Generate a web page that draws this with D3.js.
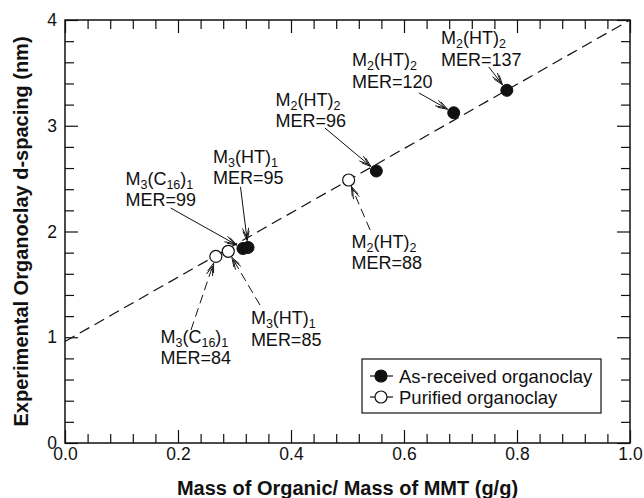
<!DOCTYPE html>
<html><head><meta charset="utf-8">
<script src="https://cdn.jsdelivr.net/npm/d3@7"></script>
<style>
body{margin:0;background:#fff}
text{font-family:"Liberation Sans",Arial,Helvetica,sans-serif;fill:#111}
</style>
</head><body>
<svg id="c" width="644" height="498"></svg>
<script>
// ---- data ----
const xTicks = [0, 0.2, 0.4, 0.6, 0.8, 1.0];
const xMinorTicks = [0.04,0.08,0.12,0.16,0.24,0.28,0.32,0.36,0.44,0.48,0.52,0.56,0.64,0.68,0.72,0.76,0.84,0.88,0.92,0.96];
const yTicks = [0, 1, 2, 3, 4];
const yMinorTicks = [0.2,0.4,0.6,0.8,1.2,1.4,1.6,1.8,2.2,2.4,2.6,2.8,3.2,3.4,3.6,3.8];
const asReceivedX = [0.315, 0.324, 0.551, 0.688, 0.782];
const asReceivedY = [1.839, 1.849, 2.572, 3.123, 3.335];
const purifiedX = [0.267, 0.289, 0.502];
const purifiedY = [1.764, 1.813, 2.487];
const fitX = [0, 1];
const fitY = [0.96, 4.0];
const seriesNames = ["As-received organoclay", "Purified organoclay"];
// annotations: series (0 filled, 1 open), point index, label name (| separates normal/subscript), MER
const annSeries = [0, 0, 0, 0, 0, 1, 1, 1];
const annIndex  = [4, 3, 2, 1, 0, 2, 1, 0];
const annName   = ["M|2|(HT)|2", "M|2|(HT)|2", "M|2|(HT)|2", "M|3|(HT)|1", "M|3|(C|16|)|1", "M|2|(HT)|2", "M|3|(HT)|1", "M|3|(C|16|)|1"];
const annMER    = ["MER=137", "MER=120", "MER=96", "MER=95", "MER=99", "MER=88", "MER=85", "MER=84"];
// label anchor (data coords) and arrow start (data coords)
const annTextX  = [0.6655, 0.508, 0.3726, 0.262, 0.107, 0.507, 0.329, 0.169];
const annTextY  = [3.773, 3.565, 3.187, 2.648, 2.440, 1.844, 1.125, 0.946];
const annFromX  = [0.750, 0.6265, 0.460, 0.3106, 0.187, 0.540, 0.345, 0.223];
const annFromY  = [3.556, 3.310, 2.979, 2.421, 2.222, 2.014, 1.305, 1.069];

// ---- layout ----
const W = 644, H = 498;
const m = {l: 65, r: 14, t: 20, b: 55};
const svg = d3.select("#c");
const x = d3.scaleLinear().domain([0, 1]).range([m.l, W - m.r]);
const y = d3.scaleLinear().domain([0, 4]).range([H - m.b, m.t]);
const ink = "#111";
const R = 6;

// axes with inward ticks on all sides
function drawAxis(gen, tr, vals, size, fmt, pad) {
  const g = svg.append("g").attr("transform", tr)
    .call(gen.tickValues(vals).tickSizeInner(-size).tickSizeOuter(0).tickPadding(pad).tickFormat(fmt));
  g.select(".domain").remove();
  g.selectAll("line").attr("stroke", ink).attr("stroke-width", 1.2);
  g.selectAll("text").attr("font-size", 17.5).attr("fill", ink)
    .attr("font-family", "'Liberation Sans',Arial,sans-serif");
  return g;
}
const none = () => "";
drawAxis(d3.axisBottom(x), `translate(0,${y(0)})`, xTicks, 13, d3.format(".1f"), 5);
drawAxis(d3.axisBottom(x), `translate(0,${y(0)})`, xMinorTicks, 9, none, 5);
drawAxis(d3.axisTop(x), `translate(0,${y(4)})`, xTicks, 13, none, 5);
drawAxis(d3.axisTop(x), `translate(0,${y(4)})`, xMinorTicks, 9, none, 5);
drawAxis(d3.axisLeft(y), `translate(${x(0)},0)`, yTicks, 13, d3.format("d"), 8);
drawAxis(d3.axisLeft(y), `translate(${x(0)},0)`, yMinorTicks, 9, none, 8);
drawAxis(d3.axisRight(y), `translate(${x(1)},0)`, yTicks, 13, none, 8);
drawAxis(d3.axisRight(y), `translate(${x(1)},0)`, yMinorTicks, 9, none, 8);

svg.append("rect").attr("x", x(0)).attr("y", y(4))
  .attr("width", x(1) - x(0)).attr("height", y(0) - y(4))
  .attr("fill", "none").attr("stroke", ink).attr("stroke-width", 1.5);

// fit line
svg.append("path")
  .datum(fitX.map((v, i) => [v, fitY[i]]))
  .attr("d", d3.line().x(d => x(d[0])).y(d => y(d[1])))
  .attr("fill", "none").attr("stroke", ink).attr("stroke-width", 1.2)
  .attr("stroke-dasharray", "11,6");

// points
const filled = asReceivedX.map((v, i) => [v, asReceivedY[i]]);
const open = purifiedX.map((v, i) => [v, purifiedY[i]]);
svg.append("g").selectAll("circle").data(open).join("circle")
  .attr("cx", d => x(d[0])).attr("cy", d => y(d[1])).attr("r", R)
  .attr("fill", "#fff").attr("stroke", ink).attr("stroke-width", 1.2);
svg.append("g").selectAll("circle").data(filled).join("circle")
  .attr("cx", d => x(d[0])).attr("cy", d => y(d[1])).attr("r", R)
  .attr("fill", ink).attr("stroke", ink).attr("stroke-width", 1);

// annotations
function nameText(sel, s) {
  s.split("|").forEach((part, i) => {
    const sub = i % 2 === 1;
    sel.append("tspan").text(part)
      .attr("font-size", sub ? 12.5 : 18)
      .attr("dy", sub ? 4 : (i === 0 ? 0 : -4));
  });
}
const ag = svg.append("g");
annSeries.forEach((s, k) => {
  const pts = s === 0 ? filled : open;
  const p = pts[annIndex[k]];
  const px = x(p[0]), py = y(p[1]);
  const fx = x(annFromX[k]), fy = y(annFromY[k]);
  const dx = px - fx, dy = py - fy, L = Math.hypot(dx, dy);
  const ux = dx / L, uy = dy / L;
  const ex = px - ux * (R + 1), ey = py - uy * (R + 1);
  ag.append("line").attr("x1", fx).attr("y1", fy).attr("x2", ex).attr("y2", ey)
    .attr("stroke", ink).attr("stroke-width", 1)
    .attr("stroke-dasharray", s === 1 ? "9,5" : null);
  // double chevron arrowhead
  const hl = 10, ang = 0.32;
  [0, 3].forEach(off => {
    const tx = ex - ux * off, ty = ey - uy * off;
    const a = Math.atan2(uy, ux);
    const p1 = [tx - hl * Math.cos(a - ang), ty - hl * Math.sin(a - ang)];
    const p2 = [tx - hl * Math.cos(a + ang), ty - hl * Math.sin(a + ang)];
    ag.append("path").attr("d", `M${p1[0]},${p1[1]}L${tx},${ty}L${p2[0]},${p2[1]}`)
      .attr("fill", "none").attr("stroke", ink).attr("stroke-width", 1);
  });
  const tx = x(annTextX[k]), ty = y(annTextY[k]);
  const t1 = ag.append("text").attr("x", tx).attr("y", ty).attr("font-size", 18);
  nameText(t1, annName[k]);
  ag.append("text").attr("x", tx).attr("y", ty + 21.5).attr("font-size", 18).text(annMER[k]);
});

// legend
const lg = svg.append("g");
lg.append("rect").attr("x", 362).attr("y", 359).attr("width", 239).attr("height", 54)
  .attr("fill", "#fff").attr("stroke", ink).attr("stroke-width", 1.2);
seriesNames.forEach((nm, i) => {
  const cy = 376 + i * 21;
  lg.append("line").attr("x1", 370).attr("x2", 393).attr("y1", cy).attr("y2", cy)
    .attr("stroke", ink).attr("stroke-width", 1.2);
  lg.append("circle").attr("cx", 381).attr("cy", cy).attr("r", R)
    .attr("fill", i === 0 ? ink : "#fff").attr("stroke", ink).attr("stroke-width", 1.2);
  lg.append("text").attr("x", 399).attr("y", cy + 6.5).attr("font-size", 18.5).text(nm);
});

// axis titles
svg.append("text").attr("x", (x(0) + x(1)) / 2).attr("y", 495)
  .attr("text-anchor", "middle").attr("font-size", 20).attr("font-weight", "bold")
  .text("Mass of Organic/ Mass of MMT (g/g)");
svg.append("text").attr("transform", `translate(28,${(y(0) + y(4)) / 2}) rotate(-90)`)
  .attr("text-anchor", "middle").attr("font-size", 20).attr("font-weight", "bold")
  .text("Experimental Organoclay d-spacing (nm)");
</script>
</body></html>
